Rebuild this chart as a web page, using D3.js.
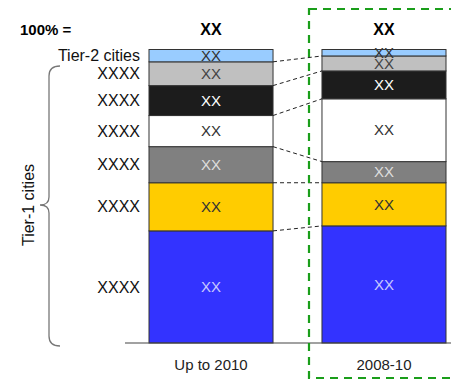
<!DOCTYPE html>
<meta charset="UTF-8">
<style>
body { margin: 0; background: #fff; }
svg text { font-family: "Liberation Sans", Arial, sans-serif; }
.seg { stroke: #333; stroke-width: 1px; }
.conn { fill: none; stroke: #222; stroke-width: 1px; stroke-dasharray: 4,3; }
</style>
<body>
<script src="https://cdn.jsdelivr.net/npm/d3@7/dist/d3.min.js"></script>
<script>

// bar categories and the total shown above each bar
var categories = ["Up to 2010", "2008-10"];
var totals = ["XX", "XX"];

// segments, bottom to top
var segments = ["s1", "s2", "s3", "s4", "s5", "s6", "tier2"];
var segmentLabels = ["XXXX", "XXXX", "XXXX", "XXXX", "XXXX", "XXXX", "Tier-2 cities"];
var valueLabels = ["XX", "XX", "XX", "XX", "XX", "XX", "XX"];

// share (%) of each segment, bottom to top
var upTo2010 = [38.2, 16.4, 12.3, 10.6, 10.2, 8.1, 4.2];
var y2008_10 = [39.9, 14.7, 7.2, 21.4, 9.5, 5.1, 2.2];

var colors = ["#3333ff", "#ffcc00", "#808080", "#ffffff", "#1c1c1c", "#c0c0c0", "#99ccff"];
var textColors = ["#c8c8ff", "#333", "#dddddd", "#333", "#ffffff", "#444", "#333"];

var W = 451, H = 381;
var svg = d3.select("body").append("svg")
    .attr("width", W)
    .attr("height", H);

var x = d3.scaleBand()
    .domain(categories)
    .range([149, 446])
    .paddingInner(0.283)
    .paddingOuter(0);

var y = d3.scaleLinear()
    .domain([0, 100])
    .range([343, 49.5]);

var series = [upTo2010, y2008_10];

// stack the values
var stacked = series.map(function(vals, i) {
  var acc = 0;
  return vals.map(function(v, j) {
    var d = {cat: categories[i], j: j, y0: acc, y1: acc + v};
    acc += v;
    return d;
  });
});

// dashed connectors between matching boundaries
var left = stacked[0], right = stacked[1];
for (var j = 0; j < segments.length - 1; j++) {
  svg.append("line")
      .attr("class", "conn")
      .attr("x1", x(categories[0]) + x.bandwidth())
      .attr("y1", y(left[j].y1))
      .attr("x2", x(categories[1]))
      .attr("y2", y(right[j].y1));
}

// bars
stacked.forEach(function(col) {
  var g = svg.append("g");
  g.selectAll("rect")
    .data(col)
    .enter().append("rect")
      .attr("class", "seg")
      .attr("x", function(d) { return x(d.cat); })
      .attr("width", x.bandwidth())
      .attr("y", function(d) { return y(d.y1); })
      .attr("height", function(d) { return y(d.y0) - y(d.y1); })
      .attr("fill", function(d) { return colors[d.j]; });

  g.selectAll("text")
    .data(col)
    .enter().append("text")
      .attr("x", function(d) { return x(d.cat) + x.bandwidth() / 2; })
      .attr("y", function(d) { return (y(d.y0) + y(d.y1)) / 2; })
      .attr("dy", "0.35em")
      .attr("text-anchor", "middle")
      .style("font-size", "15px")
      .attr("fill", function(d) { return textColors[d.j]; })
      .text(function(d) { return valueLabels[d.j]; });
});

// baseline
svg.append("line")
    .attr("x1", 125).attr("x2", W)
    .attr("y1", y(0)).attr("y2", y(0))
    .attr("stroke", "#444").attr("stroke-width", 1.2);

// category labels
svg.selectAll("text.cat")
  .data(categories)
  .enter().append("text")
    .attr("class", "cat")
    .attr("x", function(d) { return x(d) + x.bandwidth() / 2; })
    .attr("y", 370)
    .attr("text-anchor", "middle")
    .style("font-size", "15px")
    .attr("fill", "#222")
    .text(function(d) { return d; });

// totals
svg.append("text")
    .attr("x", 20).attr("y", 35)
    .style("font-size", "15px").style("font-weight", "bold")
    .text("100% =");
svg.selectAll("text.tot")
  .data(totals)
  .enter().append("text")
    .attr("class", "tot")
    .attr("x", function(d, i) { return x(categories[i]) + x.bandwidth() / 2; })
    .attr("y", 35)
    .attr("text-anchor", "middle")
    .style("font-size", "16px").style("font-weight", "bold")
    .text(function(d) { return d; });

// segment labels on the left
svg.selectAll("text.seglab")
  .data(left)
  .enter().append("text")
    .attr("class", "seglab")
    .attr("x", 140)
    .attr("y", function(d) { return (y(d.y0) + y(d.y1)) / 2; })
    .attr("dy", "0.35em")
    .attr("text-anchor", "end")
    .style("font-size", "16px")
    .attr("fill", "#111")
    .text(function(d) { return segmentLabels[d.j]; });

// brace for tier-1
var bTop = 66, bBot = 346, bTip = 205, bx = 49;
svg.append("path")
    .attr("d", "M 60 " + bTop + " Q " + bx + " " + bTop + " " + bx + " " + (bTop + 10) +
               " L " + bx + " " + (bTip - 8) + " Q " + bx + " " + bTip + " 40 " + bTip +
               " Q " + bx + " " + bTip + " " + bx + " " + (bTip + 8) +
               " L " + bx + " " + (bBot - 10) + " Q " + bx + " " + bBot + " 60 " + bBot)
    .attr("fill", "none").attr("stroke", "#777").attr("stroke-width", 1.3);

svg.append("text")
    .attr("transform", "translate(34," + bTip + ") rotate(-90)")
    .attr("text-anchor", "middle")
    .style("font-size", "16px")
    .attr("fill", "#111")
    .text("Tier-1 cities");

// green highlight box around the second bar
svg.append("rect")
    .attr("x", 309).attr("y", 9)
    .attr("width", 145).attr("height", 369)
    .attr("fill", "none")
    .attr("stroke", "#1a9e1a").attr("stroke-width", 2.2)
    .attr("stroke-dasharray", "8,6");

</script>
</body>
